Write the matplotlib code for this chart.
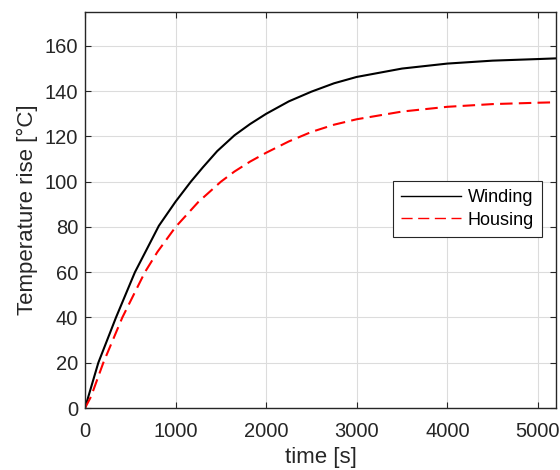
import matplotlib
matplotlib.use("Agg")
import matplotlib.pyplot as plt

plt.rcParams['font.family'] = ['Liberation Sans', 'DejaVu Sans']

# 권선 온도 상승 (Winding)
t_winding = [0, 66, 147, 342, 551, 680, 815, 1000, 1168, 1300, 1459, 1650, 1823,
             2000, 2250, 2500, 2750, 3000, 3500, 4000, 4500, 5000, 5200]
winding = [0, 9, 20, 40, 60, 70, 80.5, 91.2, 100, 106.3, 113.5, 120.5, 125.5,
           130.0, 135.5, 139.8, 143.5, 146.3, 150.0, 152.2, 153.5, 154.2, 154.5]

# 하우징 온도 상승 (Housing)
t_housing = [0, 66, 202, 412, 661, 800, 1000, 1250, 1500, 1650, 1823,
             2000, 2250, 2500, 2750, 3000, 3500, 4000, 4500, 5000, 5200]
housing = [0, 5, 20, 40, 60, 69, 80, 91, 100, 104.5, 108.9,
           112.8, 117.8, 122.0, 125.2, 127.6, 131.0, 133.1, 134.3, 134.9, 135.1]

fig = plt.figure(figsize=(5.6, 4.7), dpi=100)
ax = fig.add_axes([0.1518, 0.1319, 0.8411, 0.8426])

ax.plot(t_winding, winding, color='black', lw=1.5, label='Winding')
ax.plot(t_housing, housing, color='red', lw=1.5, ls=(0, (6, 3)), label='Housing')

ax.set_xlim(0, 5200)
ax.set_ylim(0, 175)
ax.set_xticks([0, 1000, 2000, 3000, 4000, 5000])
ax.set_yticks(range(0, 161, 20))
ax.grid(True, color='#dcdcdc', lw=0.8)
ax.set_axisbelow(True)

for s in ax.spines.values():
    s.set_color('#262626')
    s.set_linewidth(1.0)
ax.tick_params(direction='in', top=True, right=True, length=4, width=0.8,
               colors='#262626', labelsize=14.5, pad=5)
ax.tick_params(axis='x', pad=10)

ax.set_xlabel('time [s]', fontsize=16, color='#262626', labelpad=4.5)
ax.set_ylabel('Temperature rise [°C]', fontsize=16, color='#262626', labelpad=5)

leg = ax.legend(loc='lower left', bbox_to_anchor=(0.654, 0.432), fontsize=13,
                fancybox=False, framealpha=1, edgecolor='#262626',
                handlelength=3.3, handletextpad=0.4, borderpad=0.45,
                labelspacing=0.3, borderaxespad=0)
leg.get_frame().set_linewidth(0.8)
for line in leg.get_lines():
    line.set_linewidth(1.0)
leg.get_lines()[1].set_dashes((8, 4))

fig.savefig('out.png', dpi=100)
